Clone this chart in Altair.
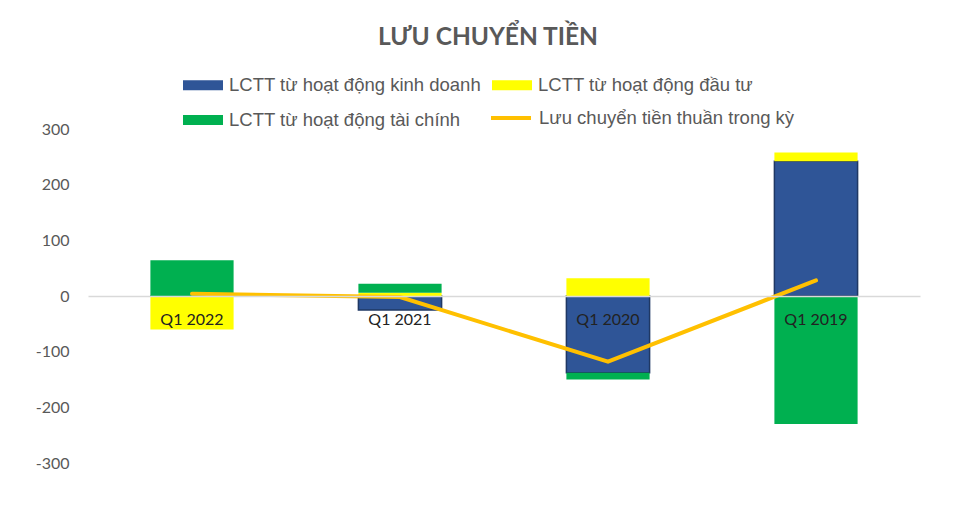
import altair as alt
import pandas as pd

categories = ["Q1 2022", "Q1 2021", "Q1 2020", "Q1 2019"]
series_names = [
    "LCTT từ hoạt động kinh doanh",
    "LCTT từ hoạt động đầu tư",
    "LCTT từ hoạt động tài chính",
]
series_colors = ["#2F5597", "#FFFF00", "#00B050"]
op_cf = [0, -25, -138, 242]
inv_cf = [-60, 6, 32, 16]
fin_cf = [64, 16, -12, -230]
net_name = "Lưu chuyển tiền thuần trong kỳ"
net_cf = [4, -2, -118, 28]
y_ticks = [-300, -200, -100, 0, 100, 200, 300]

rows = []
for i, c in enumerate(categories):
    for k, (name, vals) in enumerate(zip(series_names, [op_cf, inv_cf, fin_cf])):
        rows.append({"cat": c, "series": name, "value": vals[i], "ord": k})
bars_df = pd.DataFrame(rows)
line_df = pd.DataFrame({"cat": categories, "net": net_cf, "name": [net_name] * len(categories)})

label_font = "Liberation Sans"

x_enc = alt.X(
    "cat:N",
    sort=categories,
    title=None,
    scale=alt.Scale(paddingInner=0.6, paddingOuter=0.3),
    axis=alt.Axis(
        orient="bottom", offset=-167, domainColor="#D9D9D9", domainWidth=1.5,
        ticks=False, labelPadding=15, labelFont="Lato", labelFontSize=16,
        labelColor="#222222", labelAngle=0, zindex=1,
    ),
)
y_scale = alt.Scale(domain=[-300, 300], nice=False)
y_axis = alt.Axis(
    values=y_ticks, grid=False, domain=False, ticks=False, labelPadding=19,
    labelFont="Lato", labelFontSize=16, labelColor="#595959",
    labelExpr="'' + datum.value",
)

bars = alt.Chart(bars_df).mark_bar(stroke="#1F3864").encode(
    x=x_enc,
    y=alt.Y("value:Q", stack="zero", scale=y_scale, axis=y_axis, title=None),
    color=alt.Color(
        "series:N",
        sort=series_names,
        scale=alt.Scale(domain=series_names, range=series_colors),
        legend=alt.Legend(
            orient="none", direction="horizontal", legendX=95, legendY=-64,
            columns=2, columnPadding=10, rowPadding=5, values=series_names,
            symbolType="M-1,-0.25H1V0.25H-1Z", symbolSize=1600,
            symbolStrokeWidth=0, symbolOpacity=1, labelFont=label_font, labelFontSize=18.5,
            labelColor="#595959", labelLimit=400, labelOffset=6, title=None, padding=0,
        ),
    ),
    order=alt.Order("ord:Q"),
    strokeWidth=alt.condition(
        alt.datum.series == series_names[0], alt.value(1.5), alt.value(0)
    ),
)

line = alt.Chart(line_df).mark_line(strokeWidth=4, strokeCap="round").encode(
    x=alt.X("cat:N", sort=categories),
    y=alt.Y("net:Q", scale=y_scale),
    color=alt.Color(
        "name:N",
        scale=alt.Scale(domain=[net_name], range=["#FFC000"]),
        legend=alt.Legend(
            orient="none", legendX=401, legendY=-33, symbolType="stroke",
            symbolSize=1600, symbolStrokeWidth=4, labelFont=label_font,
            labelFontSize=18.5, labelColor="#595959", labelLimit=400,
            labelOffset=6, title=None, padding=0,
        ),
    ),
)

chart = (
    alt.layer(bars, line)
    .resolve_scale(color="independent")
    .properties(
        width=832,
        height=334,
        autosize=alt.AutoSizeParams(type="none"),
        padding={"left": 80, "top": 121, "right": 40, "bottom": 40},
        title=alt.TitleParams(
            "LƯU CHUYỂN TIỀN", anchor="middle", dx=-16, offset=15,
            font="Lato", fontSize=24.5, fontWeight="bold", color="#595959",
        ),
    )
    .configure_view(stroke=None)
)

chart.save("out.html", embed_options={"renderer": "svg", "actions": False})
